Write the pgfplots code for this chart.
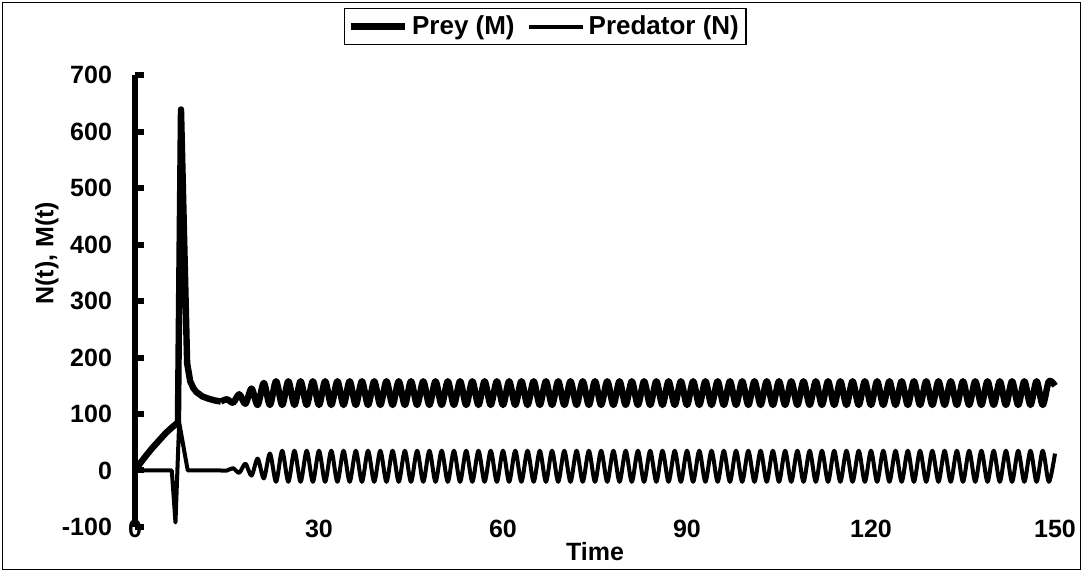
\documentclass[border=0pt]{standalone}
\usepackage{fontspec}
\setmainfont{Liberation Sans}
\usepackage{pgfplots}
\pgfplotsset{compat=1.18}
\begin{document}
\begin{tikzpicture}
\path (-67.5pt,-22.5pt) rectangle (474pt,263.5pt);
\draw[line width=0.6pt] (-66.2pt,-21.2pt) rectangle (472.7pt,262.2pt);
\begin{axis}[
  at={(0pt,0pt)}, anchor=south west,
  width=460pt, height=226pt, scale only axis,
  xmin=0, xmax=150, ymin=-100, ymax=700,
  xtick={0,30,60,90,120,150}, ytick={-100,0,100,200,300,400,500,600,700},
  axis y line=left, axis x line=bottom, axis line style={-},
  x axis line style={draw=none},
  xtick style={draw=none},
  y axis line style={line width=3.2pt},
  ytick style={line width=3pt, black},
  major tick length=4.5pt, tick align=inside, ytick pos=left,
  /pgf/number format/assume math mode=true,
  tick label style={font=\fontsize{12.5}{14}\selectfont\bfseries},
  yticklabel style={xshift=-8pt},
  xticklabel style={yshift=7pt},
  xlabel={Time}, ylabel={N(t), M(t)},
  label style={font=\fontsize{12.5}{15}\selectfont\bfseries},
  xlabel style={at={(axis description cs:0.5,-0.055)}, anchor=center},
  ylabel style={at={(axis description cs:-0.0957,0.606)}, anchor=center, rotate=0},
  legend columns=2,
  legend image code/.code={\draw[#1] (0pt,0pt) -- (27pt,0pt);},
  legend style={at={(axis description cs:0.446,1.148)}, anchor=north,
    draw=black, line width=0.6pt, inner sep=1.5pt,
    font=\fontsize{13}{15}\selectfont\bfseries,
    /tikz/every even column/.append style={column sep=4pt}},
  clip=false,
]
% Prey (M) - early transient
\addplot[black, line width=3.2pt, line join=round, forget plot] coordinates {
(0,0) (1,15) (2,29) (3,42) (4,54) (5,66) (6,76) (7,85) (7.5,639) (8.5,190)
(9,158) (9.5,146) (10,139) (11,131) (12,127) (13,124) (14,122)};
% Prey (M) - oscillation
\addplot[black, line width=3.2pt, smooth, line join=round] coordinates {
(14,122) (15,126) (16,120) (17,135) (18,118) (19,145) (20,116) (21,155)
(22,116) (23,158) (24,116) (25,158) (26,116) (27,158) (28,116) (29,158)
(30,116) (31,158) (32,116) (33,158) (34,116) (35,158) (36,116) (37,158)
(38,116) (39,158) (40,116) (41,158) (42,116) (43,158) (44,116) (45,158)
(46,116) (47,158) (48,116) (49,158) (50,116) (51,158) (52,116) (53,158)
(54,116) (55,158) (56,116) (57,158) (58,116) (59,158) (60,116) (61,158)
(62,116) (63,158) (64,116) (65,158) (66,116) (67,158) (68,116) (69,158)
(70,116) (71,158) (72,116) (73,158) (74,116) (75,158) (76,116) (77,158)
(78,116) (79,158) (80,116) (81,158) (82,116) (83,158) (84,116) (85,158)
(86,116) (87,158) (88,116) (89,158) (90,116) (91,158) (92,116) (93,158)
(94,116) (95,158) (96,116) (97,158) (98,116) (99,158) (100,116) (101,158)
(102,116) (103,158) (104,116) (105,158) (106,116) (107,158) (108,116) (109,158)
(110,116) (111,158) (112,116) (113,158) (114,116) (115,158) (116,116) (117,158)
(118,116) (119,158) (120,116) (121,158) (122,116) (123,158) (124,116) (125,158)
(126,116) (127,158) (128,116) (129,158) (130,116) (131,158) (132,116) (133,158)
(134,116) (135,158) (136,116) (137,158) (138,116) (139,158) (140,116) (141,158)
(142,116) (143,158) (144,116) (145,158) (146,116) (147,158) (148,116) (149,158)
(150,150)};
\addlegendentry{Prey (M)}
% Predator (N) - early transient
\addplot[black, line width=2pt, line join=round, forget plot] coordinates {
(0,0) (6.0,0) (6.6,-92) (7.2,85) (8.6,0) (14,0)};
% Predator (N) - oscillation
\addplot[black, line width=2pt, smooth, line join=round] coordinates {
(14,0) (15,0) (16,4) (17,-4) (18,12) (19,-9) (20,21) (21,-14)
(22,30) (23,-20) (24,35) (25,-20) (26,35) (27,-20) (28,35) (29,-20)
(30,35) (31,-20) (32,35) (33,-20) (34,35) (35,-20) (36,35) (37,-20)
(38,35) (39,-20) (40,35) (41,-20) (42,35) (43,-20) (44,35) (45,-20)
(46,35) (47,-20) (48,35) (49,-20) (50,35) (51,-20) (52,35) (53,-20)
(54,35) (55,-20) (56,35) (57,-20) (58,35) (59,-20) (60,35) (61,-20)
(62,35) (63,-20) (64,35) (65,-20) (66,35) (67,-20) (68,35) (69,-20)
(70,35) (71,-20) (72,35) (73,-20) (74,35) (75,-20) (76,35) (77,-20)
(78,35) (79,-20) (80,35) (81,-20) (82,35) (83,-20) (84,35) (85,-20)
(86,35) (87,-20) (88,35) (89,-20) (90,35) (91,-20) (92,35) (93,-20)
(94,35) (95,-20) (96,35) (97,-20) (98,35) (99,-20) (100,35) (101,-20)
(102,35) (103,-20) (104,35) (105,-20) (106,35) (107,-20) (108,35) (109,-20)
(110,35) (111,-20) (112,35) (113,-20) (114,35) (115,-20) (116,35) (117,-20)
(118,35) (119,-20) (120,35) (121,-20) (122,35) (123,-20) (124,35) (125,-20)
(126,35) (127,-20) (128,35) (129,-20) (130,35) (131,-20) (132,35) (133,-20)
(134,35) (135,-20) (136,35) (137,-20) (138,35) (139,-20) (140,35) (141,-20)
(142,35) (143,-20) (144,35) (145,-20) (146,35) (147,-20) (148,35) (149,-20)
(150,30)};
\addlegendentry{Predator (N)}
\end{axis}
\end{tikzpicture}
\end{document}
